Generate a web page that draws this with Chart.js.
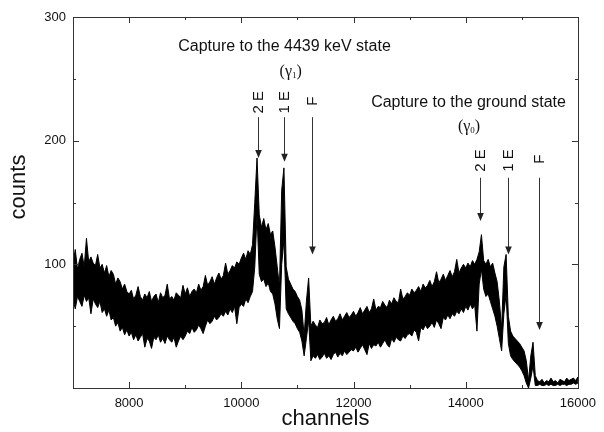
<!DOCTYPE html>
<html>
<head>
<meta charset="utf-8">
<script src="https://cdn.jsdelivr.net/npm/chart.js@4/dist/chart.umd.min.js"></script>
<style>
    body { margin: 0; background: #ffffff; }
    #wrap { width: 604px; height: 432px; }
</style>
</head>
<body>
<div id="wrap"><canvas id="spectrum" width="604" height="432"></canvas></div>
<script>
// spectrum band: upper and lower edge of the noise, one value every 40 channels from 7000
const channelStart = 7000;
const channelStep = 40;
const upperCounts = [
    // 7000 - 7960
    100, 112, 96, 104, 109, 98, 121, 102, 106, 101, 99, 108, 97, 100, 93, 99, 90, 95, 92, 84, 89, 86, 80, 84, 78,
    // 8000 - 8960
    76, 79, 72, 75, 82, 74, 71, 76, 73, 78, 70, 74, 76, 69, 77, 73, 75, 84, 72, 74, 71, 77, 75, 73, 83,
    // 9000 - 9960
    76, 81, 74, 78, 80, 77, 84, 79, 82, 91, 83, 86, 90, 84, 89, 93, 88, 91, 101, 92, 95, 99, 97, 102, 100,
    // 10000 - 10960
    105, 109, 104, 111, 108, 116, 150, 186, 140, 130, 137, 128, 133, 124, 127, 114, 98, 82, 160, 178, 98, 88, 84, 80, 78,
    // 11000 - 11960
    74, 71, 63, 42, 70, 89, 50, 54, 51, 49, 55, 52, 53, 57, 51, 55, 58, 54, 56, 60, 55, 58, 61, 57, 59,
    // 12000 - 12960
    62, 58, 61, 65, 60, 63, 66, 61, 64, 72, 63, 66, 65, 70, 67, 65, 71, 68, 73, 70, 69, 80, 72, 74, 77,
    // 13000 - 13960
    75, 80, 77, 79, 82, 78, 84, 81, 83, 87, 82, 86, 94, 85, 88, 92, 87, 91, 95, 90, 94, 104, 93, 97, 100,
    // 14000 - 14960
    97, 101, 98, 103, 100, 104, 110, 124, 103, 100, 104, 98, 101, 93, 86, 70, 48, 98, 108, 58, 46, 42, 40, 38, 36,
    // 15000 - 16000
    33, 30, 22, 6, 26, 37, 10, 6, 5, 7, 4, 6, 5, 8, 5, 6, 4, 7, 6, 5, 8, 6, 7, 8, 6, 9
];
const lowerCounts = [
    // 7000 - 7960
    72, 64, 74, 70, 66, 75, 70, 73, 60, 72, 68, 65, 70, 61, 64, 58, 63, 55, 57, 50, 53, 46, 49, 43, 47,
    // 8000 - 8960
    42, 45, 39, 43, 38, 41, 44, 33, 40, 38, 32, 41, 39, 43, 37, 40, 36, 42, 39, 37, 41, 33, 38, 42, 39,
    // 9000 - 9960
    42, 46, 44, 49, 45, 47, 51, 48, 44, 50, 55, 52, 54, 58, 55, 57, 60, 58, 62, 59, 64, 61, 66, 52, 65,
    // 10000 - 10960
    68, 66, 72, 69, 74, 78, 98, 140, 92, 86, 88, 82, 85, 78, 76, 68, 56, 48, 100, 120, 64, 60, 57, 54, 52,
    // 11000 - 11960
    48, 45, 38, 26, 40, 55, 22, 26, 24, 27, 23, 25, 28, 24, 26, 23, 27, 29, 25, 28, 26, 30, 27, 29, 31,
    // 12000 - 12960
    30, 33, 29, 32, 35, 31, 27, 36, 32, 35, 34, 37, 33, 36, 39, 35, 33, 40, 37, 41, 39, 38, 42, 40, 43,
    // 13000 - 13960
    44, 42, 47, 45, 38, 49, 47, 51, 48, 50, 53, 49, 55, 52, 48, 57, 55, 59, 56, 60, 58, 62, 60, 64, 61,
    // 14000 - 14960
    66, 63, 68, 64, 67, 46, 84, 96, 80, 74, 76, 70, 64, 58, 50, 40, 30, 60, 76, 36, 26, 23, 21, 19, 17,
    // 15000 - 16000
    14, 10, 4, 0, 8, 18, 2, 2, 3, 2, 2, 3, 2, 3, 2, 2, 3, 2, 3, 3, 2, 3, 3, 4, 3, 4
];

const xMajorTicks = [8000, 10000, 12000, 14000, 16000];
const xMinorTicks = [9000, 11000, 13000, 15000];
const yMajorTicks = [100, 200, 300];
const yMinorTicks = [50, 150, 250];

// escape peak markers
const arrowLabels = ['2 E', '1 E', 'F', '2 E', '1 E', 'F'];
const arrowChannels = [10300, 10760, 11255, 14260, 14755, 15300];
const arrowFrom = [219, 219, 219, 170, 170, 170];
const arrowTo = [186, 183, 108, 135, 108, 47];
const arrowLabelAt = [231, 231, 232, 184, 184, 185];

const captionTexts = ['Capture to the 4439 keV state', 'Capture to the ground state'];
const captionChannels = [10770, 14050];
const captionCounts = [276, 231];
const gammaSubscripts = ['1', '0'];
const gammaChannels = [10880, 14060];
const gammaCounts = [256, 211];

const sans = "'Liberation Sans', Arial, sans-serif";
const serif = "'Liberation Serif', 'Times New Roman', serif";

const toPoints = (arr) => arr.map((c, i) => ({ x: channelStart + i * channelStep, y: c }));

const overlay = {
    id: 'overlay',
    afterDraw(chart) {
        const { ctx, chartArea: a, scales: { x, y } } = chart;
        ctx.save();

        // frame + inward ticks
        ctx.strokeStyle = '#333';
        ctx.lineWidth = 1;
        ctx.strokeRect(Math.round(a.left) + 0.5, Math.round(a.top) + 0.5,
            Math.round(a.right - a.left), Math.round(a.bottom - a.top));
        const tick = (x0, y0, x1, y1) => {
            ctx.beginPath();
            ctx.moveTo(x0, y0);
            ctx.lineTo(x1, y1);
            ctx.stroke();
        };
        const xt = (v, len) => {
            const px = Math.round(x.getPixelForValue(v)) + 0.5;
            tick(px, a.bottom, px, a.bottom - len);
            tick(px, a.top, px, a.top + len);
        };
        const yt = (v, len) => {
            const py = Math.round(y.getPixelForValue(v)) + 0.5;
            tick(a.left, py, a.left + len, py);
            tick(a.right, py, a.right - len, py);
        };
        xMajorTicks.forEach(v => xt(v, 6));
        xMinorTicks.forEach(v => xt(v, 3));
        yMajorTicks.forEach(v => yt(v, 6));
        yMinorTicks.forEach(v => yt(v, 3));

        // axis titles
        ctx.fillStyle = '#111';
        ctx.font = `22px ${sans}`;
        ctx.textAlign = 'center';
        ctx.textBaseline = 'middle';
        ctx.fillText('channels', (a.left + a.right) / 2, 419);
        ctx.save();
        ctx.translate(19, 187);
        ctx.rotate(-Math.PI / 2);
        ctx.fillText('counts', 0, 0);
        ctx.restore();

        // arrows
        ctx.strokeStyle = '#333';
        ctx.fillStyle = '#222';
        arrowChannels.forEach((ch, i) => {
            const px = Math.round(x.getPixelForValue(ch)) + 0.5;
            const y0 = y.getPixelForValue(arrowFrom[i]);
            const y1 = y.getPixelForValue(arrowTo[i]);
            tick(px, y0, px, y1 - 6);
            ctx.beginPath();
            ctx.moveTo(px - 3.3, y1 - 8);
            ctx.lineTo(px + 3.3, y1 - 8);
            ctx.lineTo(px, y1);
            ctx.closePath();
            ctx.fill();

            ctx.save();
            ctx.translate(px, y.getPixelForValue(arrowLabelAt[i]));
            ctx.rotate(-Math.PI / 2);
            ctx.font = `15px ${sans}`;
            ctx.fillStyle = '#111';
            ctx.textAlign = 'center';
            ctx.textBaseline = 'middle';
            ctx.fillText(arrowLabels[i], 0, 0);
            ctx.restore();
        });

        // captions
        ctx.fillStyle = '#111';
        ctx.font = `16px ${sans}`;
        ctx.textAlign = 'center';
        ctx.textBaseline = 'middle';
        captionTexts.forEach((t, i) => {
            ctx.fillText(t, x.getPixelForValue(captionChannels[i]), y.getPixelForValue(captionCounts[i]));
        });

        // (γ1) and (γ0)
        gammaSubscripts.forEach((s, i) => {
            const cx = x.getPixelForValue(gammaChannels[i]);
            const cy = y.getPixelForValue(gammaCounts[i]);
            ctx.font = `16px ${serif}`;
            const wOpen = ctx.measureText('(γ').width;
            const wClose = ctx.measureText(')').width;
            ctx.font = `9px ${serif}`;
            const wSub = ctx.measureText(s).width;
            let left = cx - (wOpen + wSub + wClose) / 2;
            ctx.textAlign = 'left';
            ctx.font = `16px ${serif}`;
            ctx.fillText('(γ', left, cy);
            ctx.font = `9px ${serif}`;
            ctx.fillText(s, left + wOpen, cy + 4);
            ctx.font = `16px ${serif}`;
            ctx.fillText(')', left + wOpen + wSub, cy);
        });

        ctx.restore();
    }
};

new Chart(document.getElementById('spectrum'), {
    type: 'line',
    data: {
        datasets: [{
            label: 'upper',
            data: toPoints(upperCounts),
            borderColor: '#000000',
            backgroundColor: '#000000',
            borderWidth: 1,
            pointRadius: 0,
            tension: 0,
            fill: '+1'
        }, {
            label: 'lower',
            data: toPoints(lowerCounts),
            borderColor: '#000000',
            borderWidth: 1,
            pointRadius: 0,
            tension: 0,
            fill: false
        }]
    },
    options: {
        responsive: false,
        animation: false,
        layout: { padding: { top: 17, right: 22, left: 0, bottom: 0 } },
        plugins: {
            legend: { display: false },
            tooltip: { enabled: false }
        },
        scales: {
            x: {
                type: 'linear',
                min: 7000,
                max: 16000,
                grid: { display: false, drawTicks: false },
                border: { display: false },
                afterBuildTicks: (scale) => { scale.ticks = xMajorTicks.map(v => ({ value: v })); },
                afterFit: (scale) => { scale.height = 44; },
                ticks: {
                    color: '#111',
                    font: { family: sans, size: 13 },
                    padding: 8,
                    maxRotation: 0,
                    callback: (v) => String(v)
                }
            },
            y: {
                type: 'linear',
                min: 0,
                max: 300,
                grid: { display: false, drawTicks: false },
                border: { display: false },
                afterBuildTicks: (scale) => { scale.ticks = yMajorTicks.map(v => ({ value: v })); },
                afterFit: (scale) => { scale.width = 73; },
                ticks: {
                    color: '#111',
                    font: { family: sans, size: 13 },
                    padding: 7,
                    callback: (v) => String(v)
                }
            }
        }
    },
    plugins: [overlay]
});
</script>
</body>
</html>
